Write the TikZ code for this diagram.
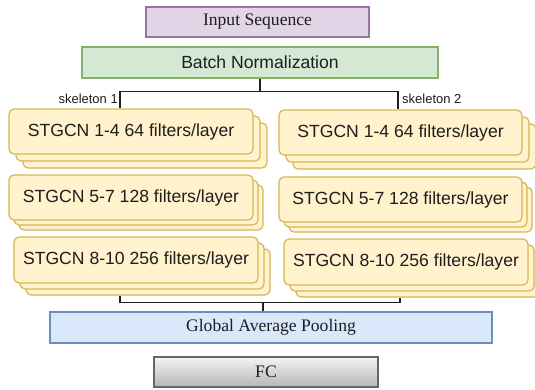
\documentclass[tikz,border=0pt]{standalone}
\usepackage{fontspec}
\setmainfont{Liberation Serif}
\setsansfont{Liberation Sans}
\usetikzlibrary{shadows}
\definecolor{ink}{HTML}{1E1E1E}
\definecolor{seqfill}{HTML}{E1D5E7}
\definecolor{seqline}{HTML}{9673A6}
\definecolor{bnfill}{HTML}{D5E8D4}
\definecolor{bnline}{HTML}{82B366}
\definecolor{gcnfill}{HTML}{FFF2CC}
\definecolor{gcnline}{HTML}{D6B656}
\definecolor{gapfill}{HTML}{DAE8FC}
\definecolor{gapline}{HTML}{6C8EBF}
\definecolor{fcline}{HTML}{666666}
\tikzset{
  serifbox/.style={line width=1.2pt, text=ink, inner sep=0pt,
                   font=\rmfamily\fontsize{17.6}{20}\selectfont},
  sansbox/.style={line width=1.2pt, text=ink, inner sep=0pt,
                  font=\sffamily\fontsize{17.6}{20}\selectfont},
  stackbox/.style={sansbox, fill=gcnfill, draw=gcnline, rounded corners=5pt,
                   minimum width=244pt, minimum height=45pt,
                   copy shadow={shadow xshift=2*#1, shadow yshift=-2*#1,
                                fill=gcnfill, draw=gcnline, line width=1.2pt},
                   copy shadow={shadow xshift=#1, shadow yshift=-#1,
                                fill=gcnfill, draw=gcnline, line width=1.2pt}},
  skel/.style={font=\sffamily\fontsize{13}{15}\selectfont, text=ink, inner sep=1pt},
  link/.style={line width=1.2pt, draw=ink}}

\begin{document}
\begin{tikzpicture}[x=1pt, y=-1pt]
  \useasboundingbox (0,0) rectangle (535,389);
  % input and normalization
  \node[serifbox, fill=seqfill, draw=seqline, minimum width=223pt, minimum height=30pt]
    (seq) at (257.5,22) {Input Sequence};
  \node[sansbox, fill=bnfill, draw=bnline, minimum width=356pt, minimum height=31pt]
    (bn) at (260,62.5) {Batch Normalization};
  % two skeleton streams
  \node[stackbox=7pt] (l1) at (131,131.5) {STGCN 1-4 64 filters/layer};
  \node[stackbox=5pt] (l2) at (131,197.5) {STGCN 5-7 128 filters/layer};
  \node[stackbox=6pt, minimum height=46pt] (l3) at (136,260) {STGCN 8-10 256 filters/layer};
  \node[stackbox=7pt, minimum width=243pt] (r1) at (400.5,132.5) {STGCN 1-4 64 filters/layer};
  \node[stackbox=5pt, minimum width=243pt] (r2) at (400.5,199.5) {STGCN 5-7 128 filters/layer};
  \node[stackbox=6pt, minimum height=46pt] (r3) at (406,262) {STGCN 8-10 256 filters/layer};
  % head
  \node[serifbox, fill=gapfill, draw=gapline, minimum width=442pt, minimum height=31pt]
    (gap) at (271,327.5) {Global Average Pooling};
  \node[serifbox, top color=gray!8, bottom color=gray!58, draw=fcline,
        minimum width=224pt, minimum height=30pt] (fc) at (266,372) {FC};
  % split into skeletons
  \draw[link] (bn.south) -- ++(0,13) coordinate (split);
  \draw[link] ([xshift=-11pt]l1.north) |- (split) -| ([xshift=-2.5pt]r1.north);
  \node[skel, anchor=east] (sk1) at (119,99) {skeleton 1};
  \node[skel, anchor=west] (sk2) at (401,99) {skeleton 2};
  % merge into pooling
  \draw[link] ([xshift=-8pt]gap.north) -- ++(0,-9) coordinate (merge);
  \draw[link] ([xshift=-16pt,yshift=-12pt]l3.south) |- (merge) -| ([xshift=-6pt,yshift=-12pt]r3.south);
\end{tikzpicture}
\end{document}
